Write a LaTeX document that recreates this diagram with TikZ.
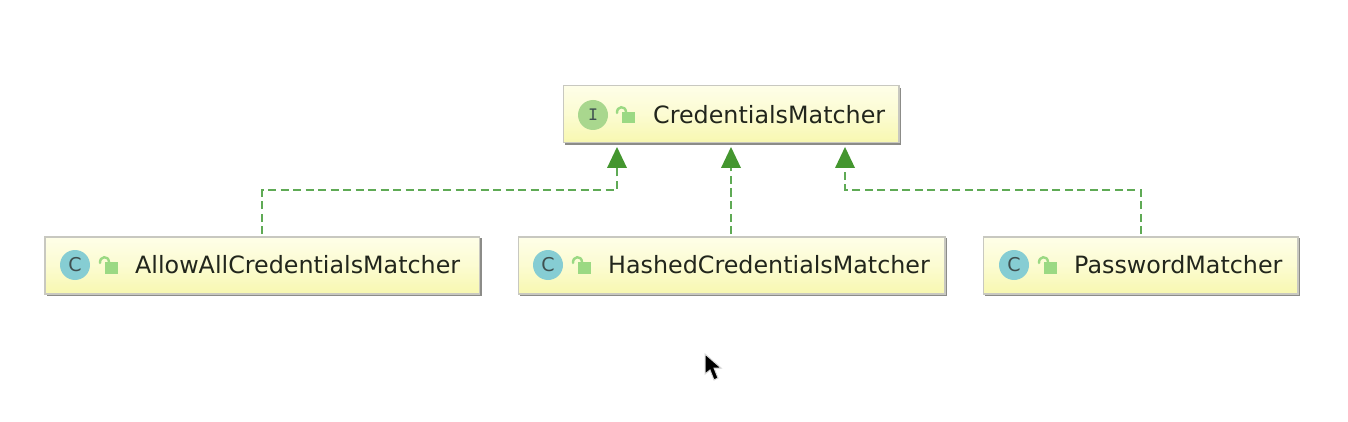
\documentclass[tikz,border=0pt]{standalone}
\usepackage{fontspec}
\setmainfont{DejaVu Sans}
\usetikzlibrary{arrows.meta}
\definecolor{boxtop}{HTML}{FEFEE8}
\definecolor{boxbot}{HTML}{F8F8B0}
\definecolor{boxedge}{HTML}{C8C8C0}
\definecolor{shade}{HTML}{8C8C88}
\definecolor{igreen}{HTML}{A9D78E}
\definecolor{cblue}{HTML}{86CDD3}
\definecolor{lockgreen}{HTML}{9BD983}
\definecolor{deparrow}{HTML}{44962F}
\definecolor{depline}{HTML}{5FAA55}
\definecolor{labeltext}{HTML}{22261C}
\definecolor{icontext}{HTML}{3F5050}
\tikzset{
  x=1pt,y=-1pt,
  classbox/.style={draw=boxedge,line width=1.5pt,top color=boxtop,bottom color=boxbot,middle color=boxtop!60!boxbot,minimum height=57pt,inner sep=0pt,anchor=north west},
  boxshadow/.style={draw=shade,line width=3pt},
  badge/.style={circle,minimum size=30pt,inner sep=0pt},
  ibadge/.style={badge,fill=igreen},
  cbadge/.style={badge,fill=cblue},
  badgetext/.style={text=icontext,font=\fontsize{19}{19}\selectfont},
  label/.style={text=labeltext,anchor=west,inner sep=0pt,font=\fontsize{23.8}{26}\selectfont},
  dep/.style={draw=depline,line width=1.5pt,dash pattern=on 8pt off 4.5pt},
  head/.style={fill=deparrow,draw=none},
  lockbody/.style={fill=lockgreen,draw=none},
  lockarc/.style={draw=lockgreen,line width=2.4pt,line cap=round}
}
\newcommand{\lockicon}[2]{%
  \fill[lockbody] (#1-3.5,#2-3) rectangle (#1+9.5,#2+8.5);
  \draw[lockarc] (#1-8,#2-2) .. controls (#1-8.5,#2-9) and (#1+0.5,#2-10) .. (#1+1,#2-3);
}
\begin{document}
\begin{tikzpicture}
\useasboundingbox[fill=white] (0,0) rectangle (1348,422);

% shadows
\draw[boxshadow] (899,88) -- (899,144) -- (565,144);
\draw[boxshadow] (480,238) -- (480,294) -- (47,294);
\draw[boxshadow] (945,238) -- (945,294) -- (520,294);
\draw[boxshadow] (1298,238) -- (1298,294) -- (985,294);

% boxes
\node[classbox,minimum width=335.5pt] (cm) at (562.5,85) {};
\node[classbox,minimum width=434.5pt] (aa) at (44,236) {};
\node[classbox,minimum width=426.5pt] (hc) at (517.5,236) {};
\node[classbox,minimum width=314.5pt] (pm) at (982.5,236) {};

% badges
\node[ibadge] (icm) at (593,115) {};
\node[badgetext,font=\fontsize{19}{19}\selectfont\ttfamily\bfseries] (icmt) at (593,115) {I};
\node[cbadge] (iaa) at (75,265) {};
\node[badgetext] (iaat) at (75,265) {C};
\node[cbadge] (ihc) at (548,265) {};
\node[badgetext] (ihct) at (548,265) {C};
\node[cbadge] (ipm) at (1014,265) {};
\node[badgetext] (ipmt) at (1014,265) {C};

% locks
\lockicon{625}{115}
\lockicon{108}{265}
\lockicon{581}{265}
\lockicon{1047}{265}

% labels
\node[label] (lcm) at (653,115) {CredentialsMatcher};
\node[label] (laa) at (135,265) {AllowAllCredentialsMatcher};
\node[label] (lhc) at (608,265) {HashedCredentialsMatcher};
\node[label] (lpm) at (1074,265) {PasswordMatcher};

% connector ends
\coordinate (t1) at (617,147);
\coordinate (t2) at (731,147);
\coordinate (t3) at (845,147);
\coordinate (b1) at (617,168);
\coordinate (b2) at (731,168);
\coordinate (b3) at (845,168);
\coordinate (e1) at (262,190);
\coordinate (e3) at (1141,190);
\coordinate (s1) at (262,234);
\coordinate (s2) at (731,234);
\coordinate (s3) at (1141,234);

% connectors
\draw[dep] (s1) -- (e1) -| (b1);
\draw[dep] (s2) -- (b2);
\draw[dep] (s3) -- (e3) -| (b3);
\fill[head] (t1) -- ++(10,21) -- ++(-20,0) -- cycle;
\fill[head] (t2) -- ++(10,21) -- ++(-20,0) -- cycle;
\fill[head] (t3) -- ++(10,21) -- ++(-20,0) -- cycle;

% mouse pointer
\fill[black,draw=white!85!black,line width=1pt] (705,354) -- (705,374) -- (710,370) -- (714,380) -- (718,378) -- (714,368) -- (721,368) -- cycle;
\end{tikzpicture}
\end{document}
